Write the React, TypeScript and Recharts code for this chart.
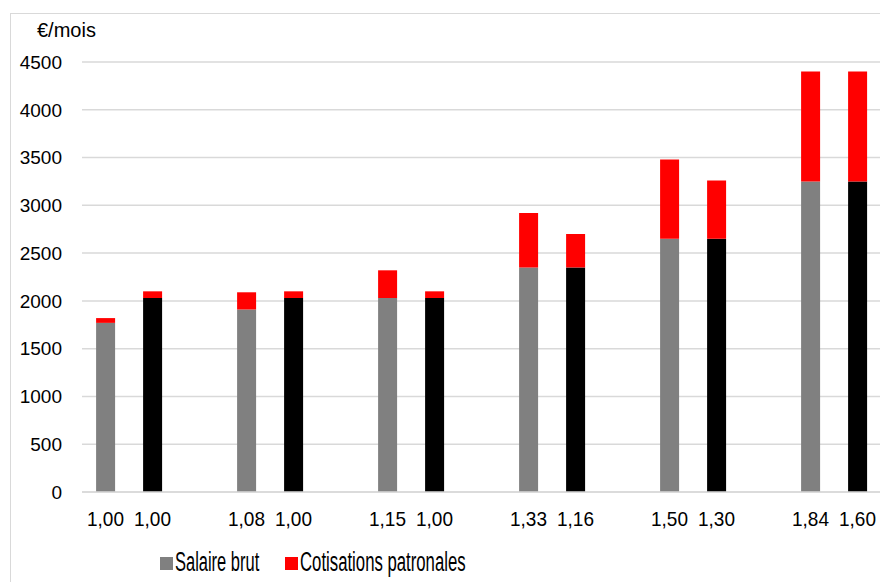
import { Bar, BarChart, CartesianGrid, Cell, XAxis, YAxis } from "recharts";

// ratio to the reference salary, shown under each bar
const ratioLabels = ["1,00", "1,00", "1,08", "1,00", "1,15", "1,00", "1,33", "1,16", "1,50", "1,30", "1,84", "1,60"];
// gross salary (€/month)
const salaireBrut = [1770, 2030, 1910, 2030, 2030, 2030, 2350, 2350, 2650, 2650, 3250, 3250];
// employer contributions (€/month) stacked on top
const cotisations = [50, 70, 180, 70, 290, 70, 570, 350, 830, 610, 1150, 1150];
// first bar of each pair is grey, second black
const barKind = ["gris", "noir", "gris", "noir", "gris", "noir", "gris", "noir", "gris", "noir", "gris", "noir"];
const yTicks = [0, 500, 1000, 1500, 2000, 2500, 3000, 3500, 4000, 4500];

const GREY = "#808080";
const BLACK = "#000000";
const RED = "#FF0000";
const GRID = "#d9d9d9";
const FONT = "'Liberation Sans', Arial, sans-serif";

type Row = {
  key: string;
  label: string;
  salaire: number | null;
  cotisations: number | null;
  kind: string;
};

// pairs of bars separated by an empty slot
const rows: Row[] = [];
ratioLabels.forEach((label, i) => {
  rows.push({
    key: `b${i}`,
    label,
    salaire: salaireBrut[i],
    cotisations: cotisations[i],
    kind: barKind[i],
  });
  if (i % 2 === 1 && i < ratioLabels.length - 1) {
    rows.push({ key: `gap${i}`, label: "", salaire: null, cotisations: null, kind: "" });
  }
});

const labelByKey: Record<string, string> = Object.fromEntries(rows.map((r) => [r.key, r.label]));

// narrow-looking labels: squeeze the regular font to a fixed width
function RatioTick(props: any) {
  const { x, y, payload } = props;
  const text = labelByKey[payload.value] ?? "";
  if (!text) return null;
  return (
    <text
      x={x - 18.5}
      y={y + 24}
      textLength={37}
      lengthAdjust="spacingAndGlyphs"
      dominantBaseline="central"
      fontFamily={FONT}
      fontSize={21}
      fill="#000"
    >
      {text}
    </text>
  );
}

// condensed legend text, squeezed horizontally from its left edge
function LegendItem({ left, color, text, scale }: { left: number; color: string; text: string; scale: number }) {
  return (
    <>
      <span
        style={{ position: "absolute", left, top: 557, width: 13, height: 13, background: color }}
      />
      <span
        style={{
          position: "absolute",
          left: left + 15,
          top: 546,
          fontSize: 27,
          lineHeight: "32px",
          whiteSpace: "nowrap",
          transform: `scaleX(${scale})`,
          transformOrigin: "0 50%",
          color: "#000",
        }}
      >
        {text}
      </span>
    </>
  );
}

export default function App() {
  return (
    <div
      style={{
        position: "absolute",
        left: 0,
        top: 0,
        width: 880,
        height: 582,
        background: "#fff",
        overflow: "hidden",
        fontFamily: FONT,
      }}
    >
      <div
        style={{
          position: "absolute",
          left: 10,
          top: 13,
          width: 900,
          height: 600,
          borderTop: `1px solid ${GRID}`,
          borderLeft: `1px solid ${GRID}`,
        }}
      />
      <div style={{ position: "absolute", left: 37, top: 19, fontSize: 20, color: "#000" }}>€/mois</div>
      <div style={{ position: "absolute", left: 0, top: 0 }}>
        <BarChart
          width={880}
          height={582}
          data={rows}
          margin={{ top: 62, right: -1, bottom: 60, left: 0 }}
          barCategoryGap="30%"
        >
          <CartesianGrid stroke={GRID} strokeWidth={1.5} vertical={false} />
          <XAxis
            dataKey="key"
            interval={0}
            height={30}
            tick={<RatioTick />}
            tickLine={false}
            tickSize={0}
            axisLine={{ stroke: GRID, strokeWidth: 1.5 }}
          />
          <YAxis
            domain={[0, 4500]}
            ticks={yTicks}
            interval={0}
            width={82}
            axisLine={false}
            tickLine={false}
            tickSize={0}
            tickMargin={20}
            tick={{ fill: "#000", fontSize: 19, fontFamily: FONT }}
          />
          <Bar dataKey="salaire" stackId="a" isAnimationActive={false} fill={GREY}>
            {rows.map((r) => (
              <Cell key={r.key} fill={r.kind === "noir" ? BLACK : GREY} />
            ))}
          </Bar>
          <Bar dataKey="cotisations" stackId="a" isAnimationActive={false} fill={RED} />
        </BarChart>
      </div>
      <LegendItem left={160} color={GREY} text="Salaire brut" scale={0.61} />
      <LegendItem left={285} color={RED} text="Cotisations patronales" scale={0.62} />
    </div>
  );
}
